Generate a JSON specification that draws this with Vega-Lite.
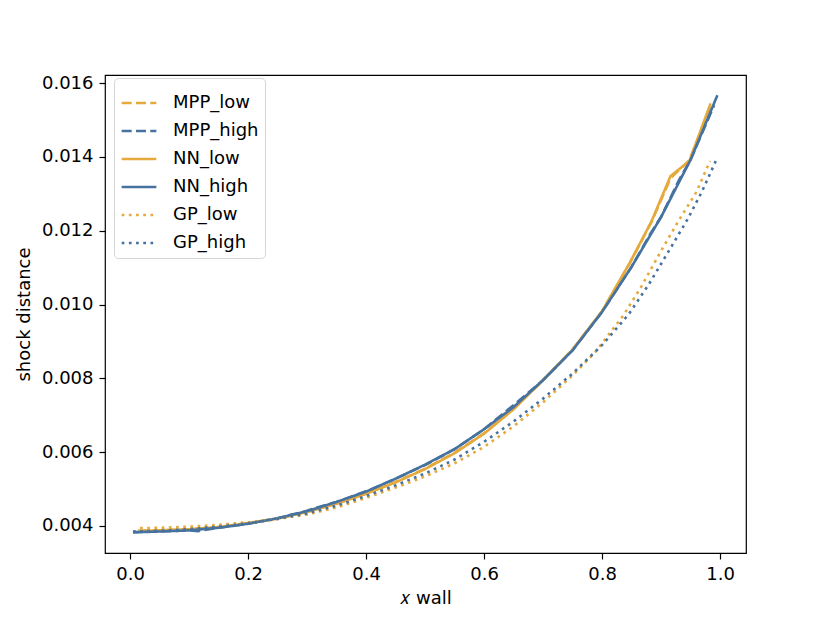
{
  "$schema": "https://vega.github.io/schema/vega-lite/v6.json",
  "width": 641,
  "height": 478,
  "autosize": "none",
  "padding": {"left": 105, "top": 75, "right": 84, "bottom": 70},
  "background": "#ffffff",
  "view": {"stroke": "#000000", "strokeWidth": 1.2},
  "config": {
    "font": "DejaVu Sans",
    "axis": {
      "grid": false,
      "domain": false,
      "tickColor": "#000000",
      "tickSize": 6,
      "tickWidth": 1.2,
      "labelFont": "DejaVu Sans",
      "labelFontSize": 18,
      "labelColor": "#000000",
      "titleFont": "DejaVu Sans",
      "titleFontSize": 18,
      "titleFontWeight": "normal",
      "titleColor": "#000000"
    },
    "legend": {
      "orient": "none",
      "legendX": 9,
      "legendY": 3,
      "title": null,
      "fillColor": "#ffffff",
      "strokeColor": "#d6d6d6",
      "cornerRadius": 4,
      "padding": 6,
      "symbolType": "stroke",
      "symbolSize": 1200,
      "symbolStrokeWidth": 2.6,
      "labelFont": "DejaVu Sans",
      "labelFontSize": 18,
      "labelColor": "#000000",
      "labelOffset": 15,
      "rowPadding": -3
    }
  },
  "data": {
    "values": [
      {"series": "MPP_low", "x": 0.014, "y": 0.00387},
      {"series": "MPP_low", "x": 0.05, "y": 0.00388},
      {"series": "MPP_low", "x": 0.1, "y": 0.00391},
      {"series": "MPP_low", "x": 0.15, "y": 0.00397},
      {"series": "MPP_low", "x": 0.2, "y": 0.00408},
      {"series": "MPP_low", "x": 0.25, "y": 0.0042},
      {"series": "MPP_low", "x": 0.3, "y": 0.00438},
      {"series": "MPP_low", "x": 0.35, "y": 0.00461},
      {"series": "MPP_low", "x": 0.4, "y": 0.00488},
      {"series": "MPP_low", "x": 0.45, "y": 0.00519},
      {"series": "MPP_low", "x": 0.5, "y": 0.00555},
      {"series": "MPP_low", "x": 0.55, "y": 0.00598},
      {"series": "MPP_low", "x": 0.6, "y": 0.00651},
      {"series": "MPP_low", "x": 0.65, "y": 0.00717},
      {"series": "MPP_low", "x": 0.7, "y": 0.00795},
      {"series": "MPP_low", "x": 0.75, "y": 0.00878},
      {"series": "MPP_low", "x": 0.8, "y": 0.00982},
      {"series": "MPP_low", "x": 0.847, "y": 0.01112},
      {"series": "MPP_low", "x": 0.884, "y": 0.01224},
      {"series": "MPP_low", "x": 0.916, "y": 0.01342},
      {"series": "MPP_low", "x": 0.948, "y": 0.01391},
      {"series": "MPP_low", "x": 0.984, "y": 0.01537},

      {"series": "MPP_high", "x": 0.005, "y": 0.00383},
      {"series": "MPP_high", "x": 0.05, "y": 0.00385},
      {"series": "MPP_high", "x": 0.1, "y": 0.00388},
      {"series": "MPP_high", "x": 0.115, "y": 0.00386},
      {"series": "MPP_high", "x": 0.15, "y": 0.00395},
      {"series": "MPP_high", "x": 0.2, "y": 0.00406},
      {"series": "MPP_high", "x": 0.25, "y": 0.00421},
      {"series": "MPP_high", "x": 0.3, "y": 0.00441},
      {"series": "MPP_high", "x": 0.31, "y": 0.00447},
      {"series": "MPP_high", "x": 0.35, "y": 0.00465},
      {"series": "MPP_high", "x": 0.4, "y": 0.00494},
      {"series": "MPP_high", "x": 0.41, "y": 0.005},
      {"series": "MPP_high", "x": 0.45, "y": 0.00528},
      {"series": "MPP_high", "x": 0.5, "y": 0.00565},
      {"series": "MPP_high", "x": 0.55, "y": 0.00608},
      {"series": "MPP_high", "x": 0.6, "y": 0.00662},
      {"series": "MPP_high", "x": 0.655, "y": 0.00734},
      {"series": "MPP_high", "x": 0.7, "y": 0.00795},
      {"series": "MPP_high", "x": 0.75, "y": 0.00876},
      {"series": "MPP_high", "x": 0.8, "y": 0.0098},
      {"series": "MPP_high", "x": 0.85, "y": 0.01102},
      {"series": "MPP_high", "x": 0.882, "y": 0.01192},
      {"series": "MPP_high", "x": 0.9, "y": 0.01237},
      {"series": "MPP_high", "x": 0.93, "y": 0.01336},
      {"series": "MPP_high", "x": 0.95, "y": 0.01392},
      {"series": "MPP_high", "x": 0.99, "y": 0.0154},

      {"series": "NN_low", "x": 0.014, "y": 0.00387},
      {"series": "NN_low", "x": 0.05, "y": 0.00388},
      {"series": "NN_low", "x": 0.1, "y": 0.00391},
      {"series": "NN_low", "x": 0.15, "y": 0.00397},
      {"series": "NN_low", "x": 0.2, "y": 0.00407},
      {"series": "NN_low", "x": 0.25, "y": 0.0042},
      {"series": "NN_low", "x": 0.3, "y": 0.00438},
      {"series": "NN_low", "x": 0.35, "y": 0.0046},
      {"series": "NN_low", "x": 0.4, "y": 0.00487},
      {"series": "NN_low", "x": 0.45, "y": 0.00518},
      {"series": "NN_low", "x": 0.5, "y": 0.00554},
      {"series": "NN_low", "x": 0.55, "y": 0.00597},
      {"series": "NN_low", "x": 0.6, "y": 0.0065},
      {"series": "NN_low", "x": 0.65, "y": 0.00716},
      {"series": "NN_low", "x": 0.7, "y": 0.00795},
      {"series": "NN_low", "x": 0.75, "y": 0.00878},
      {"series": "NN_low", "x": 0.8, "y": 0.00982},
      {"series": "NN_low", "x": 0.847, "y": 0.01113},
      {"series": "NN_low", "x": 0.884, "y": 0.01226},
      {"series": "NN_low", "x": 0.916, "y": 0.01348},
      {"series": "NN_low", "x": 0.948, "y": 0.01389},
      {"series": "NN_low", "x": 0.984, "y": 0.01545},

      {"series": "NN_high", "x": 0.005, "y": 0.00383},
      {"series": "NN_high", "x": 0.05, "y": 0.00385},
      {"series": "NN_high", "x": 0.1, "y": 0.00388},
      {"series": "NN_high", "x": 0.15, "y": 0.00395},
      {"series": "NN_high", "x": 0.2, "y": 0.00406},
      {"series": "NN_high", "x": 0.25, "y": 0.00421},
      {"series": "NN_high", "x": 0.3, "y": 0.0044},
      {"series": "NN_high", "x": 0.35, "y": 0.00465},
      {"series": "NN_high", "x": 0.4, "y": 0.00493},
      {"series": "NN_high", "x": 0.45, "y": 0.00528},
      {"series": "NN_high", "x": 0.5, "y": 0.00566},
      {"series": "NN_high", "x": 0.55, "y": 0.00608},
      {"series": "NN_high", "x": 0.6, "y": 0.00662},
      {"series": "NN_high", "x": 0.65, "y": 0.00722},
      {"series": "NN_high", "x": 0.7, "y": 0.00795},
      {"series": "NN_high", "x": 0.75, "y": 0.00876},
      {"series": "NN_high", "x": 0.8, "y": 0.0098},
      {"series": "NN_high", "x": 0.85, "y": 0.01102},
      {"series": "NN_high", "x": 0.9, "y": 0.01237},
      {"series": "NN_high", "x": 0.95, "y": 0.01392},
      {"series": "NN_high", "x": 0.9955, "y": 0.01567},

      {"series": "GP_low", "x": 0.017, "y": 0.00394},
      {"series": "GP_low", "x": 0.05, "y": 0.00395},
      {"series": "GP_low", "x": 0.1, "y": 0.00398},
      {"series": "GP_low", "x": 0.15, "y": 0.00403},
      {"series": "GP_low", "x": 0.2, "y": 0.0041},
      {"series": "GP_low", "x": 0.25, "y": 0.00419},
      {"series": "GP_low", "x": 0.3, "y": 0.00431},
      {"series": "GP_low", "x": 0.35, "y": 0.0045},
      {"series": "GP_low", "x": 0.4, "y": 0.00476},
      {"series": "GP_low", "x": 0.45, "y": 0.00504},
      {"series": "GP_low", "x": 0.5, "y": 0.00534},
      {"series": "GP_low", "x": 0.55, "y": 0.0057},
      {"series": "GP_low", "x": 0.6, "y": 0.00614},
      {"series": "GP_low", "x": 0.65, "y": 0.0067},
      {"series": "GP_low", "x": 0.7, "y": 0.00735},
      {"series": "GP_low", "x": 0.75, "y": 0.00808},
      {"series": "GP_low", "x": 0.788, "y": 0.0087},
      {"series": "GP_low", "x": 0.836, "y": 0.0097},
      {"series": "GP_low", "x": 0.867, "y": 0.0105},
      {"series": "GP_low", "x": 0.901, "y": 0.01148},
      {"series": "GP_low", "x": 0.929, "y": 0.01225},
      {"series": "GP_low", "x": 0.96, "y": 0.01305},
      {"series": "GP_low", "x": 0.983, "y": 0.01389},

      {"series": "GP_high", "x": 0.005, "y": 0.00385},
      {"series": "GP_high", "x": 0.05, "y": 0.00387},
      {"series": "GP_high", "x": 0.1, "y": 0.00391},
      {"series": "GP_high", "x": 0.15, "y": 0.00398},
      {"series": "GP_high", "x": 0.2, "y": 0.00407},
      {"series": "GP_high", "x": 0.25, "y": 0.00419},
      {"series": "GP_high", "x": 0.3, "y": 0.00434},
      {"series": "GP_high", "x": 0.35, "y": 0.00455},
      {"series": "GP_high", "x": 0.4, "y": 0.00481},
      {"series": "GP_high", "x": 0.45, "y": 0.0051},
      {"series": "GP_high", "x": 0.5, "y": 0.00542},
      {"series": "GP_high", "x": 0.55, "y": 0.0058},
      {"series": "GP_high", "x": 0.6, "y": 0.00628},
      {"series": "GP_high", "x": 0.65, "y": 0.00683},
      {"series": "GP_high", "x": 0.7, "y": 0.00745},
      {"series": "GP_high", "x": 0.75, "y": 0.00813},
      {"series": "GP_high", "x": 0.8, "y": 0.0089},
      {"series": "GP_high", "x": 0.845, "y": 0.00973},
      {"series": "GP_high", "x": 0.879, "y": 0.01054},
      {"series": "GP_high", "x": 0.915, "y": 0.0115},
      {"series": "GP_high", "x": 0.946, "y": 0.01234},
      {"series": "GP_high", "x": 0.969, "y": 0.01305},
      {"series": "GP_high", "x": 0.994, "y": 0.01393}
    ]
  },
  "mark": {"type": "line", "strokeWidth": 2.6, "clip": true},
  "encoding": {
    "x": {
      "field": "x",
      "type": "quantitative",
      "scale": {"domain": [-0.0424, 1.044], "nice": false, "zero": false},
      "axis": {"values": [0, 0.2, 0.4, 0.6, 0.8, 1.0], "format": ".1f", "labelPadding": 6, "title": "𝑥 wall", "titlePadding": 6}
    },
    "y": {
      "field": "y",
      "type": "quantitative",
      "scale": {"domain": [0.003267, 0.01622], "nice": false, "zero": false},
      "axis": {"values": [0.004, 0.006, 0.008, 0.01, 0.012, 0.014, 0.016], "format": ".3f", "labelPadding": 6, "title": "shock distance", "titlePadding": 8}
    },
    "color": {
      "field": "series",
      "type": "nominal",
      "sort": ["MPP_low", "MPP_high", "NN_low", "NN_high", "GP_low", "GP_high"],
      "scale": {
        "domain": ["MPP_low", "MPP_high", "NN_low", "NN_high", "GP_low", "GP_high"],
        "range": ["#E6A93C", "#45729F", "#E6A93C", "#45729F", "#E6A93C", "#45729F"]
      }
    },
    "strokeDash": {
      "field": "series",
      "type": "nominal",
      "sort": ["MPP_low", "MPP_high", "NN_low", "NN_high", "GP_low", "GP_high"],
      "scale": {
        "domain": ["MPP_low", "MPP_high", "NN_low", "NN_high", "GP_low", "GP_high"],
        "range": [[10, 4.3], [10, 4.3], [1, 0], [1, 0], [2.7, 4.5], [2.7, 4.5]]
      }
    }
  }
}
